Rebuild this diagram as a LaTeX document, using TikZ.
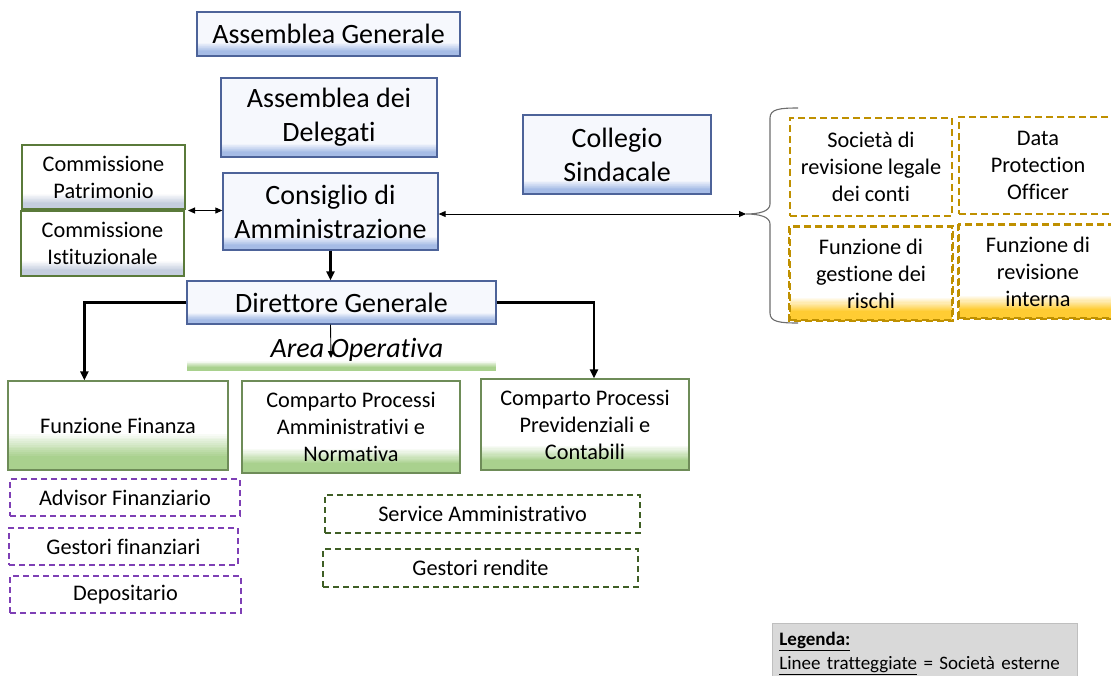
\documentclass[tikz,border=0pt]{standalone}
\usepackage{fontspec}
\setmainfont{Carlito}[Ligatures=NoCommon]
\usetikzlibrary{arrows.meta,calc}
\definecolor{blueborder}{HTML}{4D6399}
\definecolor{blueshade}{HTML}{A6BCE6}
\definecolor{boxbg}{HTML}{F6F8FD}
\definecolor{commborder}{HTML}{5A7A3A}
\definecolor{commshade}{HTML}{C5CEDF}
\definecolor{greenborder}{HTML}{6E8C58}
\definecolor{greenshade}{HTML}{A9D18E}
\definecolor{purpdash}{HTML}{7E3FB5}
\definecolor{darkgreendash}{HTML}{3F5E25}
\definecolor{golddash}{HTML}{BF9000}
\definecolor{goldshade}{HTML}{FFCC33}
\definecolor{bracegray}{HTML}{6E6E6E}
\definecolor{legendbg}{HTML}{D9D9D9}
\definecolor{legendborder}{HTML}{BFBFBF}
\newcommand\fsizeA{\fontsize{28}{34}\selectfont}
\newcommand\fsizeB{\fontsize{22.3}{27}\selectfont}
\newcommand\fsizeC{\fontsize{19}{23.5}\selectfont}
\tikzset{
  % #1 colour, #2 strip height (number, pt), #3 background colour
  botgrad/.style n args={3}{path picture={
    \foreach \k in {0,...,19}{
      \pgfmathsetmacro\pct{min(100,100*(20-\k)/13)}
      \pgfmathsetmacro\ya{#2*\k/20}
      \pgfmathsetmacro\yb{#2*(\k+1)/20+0.4}
      \fill[#1!\pct!#3] ([yshift=\ya pt]path picture bounding box.south west)
        rectangle ([yshift=\yb pt]path picture bounding box.south east);
    }}},
  basebox/.style={rectangle, inner sep=0pt, align=center, text=black},
  bluebox/.style={basebox, draw=blueborder, line width=1.3pt, fill=boxbg, font=\fsizeA, botgrad={blueshade}{13}{boxbg}},
  commbox/.style={basebox, draw=commborder, line width=1.2pt, fill=white, font=\fsizeB, botgrad={commshade}{15}{white}},
  greenbox/.style={basebox, draw=greenborder, line width=1.2pt, fill=white, font=\fsizeB},
  purpbox/.style={basebox, draw=purpdash, line width=1.6pt, dash pattern=on 6pt off 4pt, font=\fsizeB},
  dgbox/.style={basebox, draw=darkgreendash, line width=1.6pt, dash pattern=on 6pt off 4pt, font=\fsizeB},
  goldbox/.style={basebox, draw=golddash, line width=1.6pt, dash pattern=on 7pt off 4pt, font=\fsizeB},
  thickarrow/.style={line width=2.2pt, -{Triangle[length=9pt,width=8pt]}},
  thinarrow/.style={line width=0.9pt, -{Triangle[length=7pt,width=6pt]}},
  dblarrow/.style={line width=0.9pt, {Triangle[length=7pt,width=6pt]}-{Triangle[length=7pt,width=6pt]}},
}
\begin{document}
\begin{tikzpicture}[x=1pt,y=-1pt]
\clip (0,0) rectangle (1111,675);
\fill[white] (0,0) rectangle (1111,675);

% top blue boxes
\node[bluebox, minimum width=263pt, minimum height=44pt] (ag) at (328.5,34) {Assemblea Generale};
\node[bluebox, minimum width=216pt, minimum height=79pt] (ad) at (329,117.5) {Assemblea dei\\Delegati};
\node[bluebox, minimum width=215pt, minimum height=77pt] (cda) at (330.5,211.5) {Consiglio di\\Amministrazione};
\node[bluebox, minimum width=188pt, minimum height=79pt] (cs) at (617,154.5) {Collegio\\Sindacale};
\node[bluebox, minimum width=309pt, minimum height=43pt, botgrad={blueshade}{11}{boxbg}] (dg) at (341.5,302.5) {Direttore Generale};

% commissions
\node[commbox, minimum width=163pt, minimum height=64pt] (cp) at (103.5,177) {Commissione\\Patrimonio};
\node[commbox, minimum width=163pt, minimum height=65pt] (ci) at (102.5,243.5) {Commissione\\Istituzionale};

% area operativa
\node[font=\fsizeA\itshape, inner sep=0pt] (ao) at (357,350) {Area Operativa};
\node[rectangle, inner sep=0pt, minimum width=309pt, minimum height=9pt,
      botgrad={greenshade}{9}{white}] (aobar) at (341.5,366) {};
\coordinate (aoend) at (331,358);

% operative boxes
\node[greenbox, minimum width=220pt, minimum height=89pt, botgrad={greenshade}{36}{white}] (ff) at (118,425.5) {Funzione Finanza};
\node[greenbox, minimum width=218pt, minimum height=92pt, botgrad={greenshade}{24}{white}] (cpa) at (351,427) {Comparto Processi\\Amministrativi e\\Normativa};
\node[greenbox, minimum width=208pt, minimum height=91pt, botgrad={greenshade}{24}{white}] (cpp) at (585,424.5) {Comparto Processi\\Previdenziali e\\Contabili};

% external dashed boxes
\node[purpbox, minimum width=230pt, minimum height=37pt] (af) at (125,497.5) {Advisor Finanziario};
\node[purpbox, minimum width=229pt, minimum height=37pt] (gf) at (123.5,546.5) {Gestori finanziari};
\node[purpbox, minimum width=231pt, minimum height=37pt] (dep) at (125.5,594.5) {Depositario};
\node[dgbox, minimum width=315pt, minimum height=38pt] (sa) at (482.5,514) {Service Amministrativo};
\node[dgbox, minimum width=315pt, minimum height=38pt] (gr) at (480.5,568) {Gestori rendite};

% gold boxes
\node[goldbox, minimum width=162pt, minimum height=98pt] (srl) at (871,167) {Società di\\revisione legale\\dei conti};
\node[goldbox, minimum width=158pt, minimum height=97pt] (dpo) at (1038,165.5) {Data\\Protection\\Officer};
\node[goldbox, minimum width=162pt, minimum height=93pt, botgrad={goldshade}{22}{white}] (fgr) at (871,273.5) {Funzione di\\gestione dei\\rischi};
\node[goldbox, minimum width=158pt, minimum height=93pt, botgrad={goldshade}{22}{white}] (fri) at (1038,271.5) {Funzione di\\revisione\\interna};
% redraw gold dashed borders over shading
\draw[golddash, line width=1.6pt, dash pattern=on 7pt off 4pt] (fgr.north west) rectangle (fgr.south east);
\draw[golddash, line width=1.6pt, dash pattern=on 7pt off 4pt] (fri.north west) rectangle (fri.south east);

% brace
\coordinate (bracetip) at (746,214);
\draw[bracegray, line width=1.1pt]
  (798,108) .. controls (780,108) and (770,109) .. (770,118)
  -- (770,204) .. controls (770,211) and (760,214) .. (bracetip)
  .. controls (760,214) and (770,217) .. (770,224)
  -- (770,313) .. controls (770,322) and (780,323) .. (798,323);

% legend
\node[rectangle, draw=legendborder, line width=0.8pt, fill=legendbg, anchor=north west,
      minimum width=305pt, minimum height=60pt, inner xsep=7pt, inner ysep=8pt,
      align=left, text width=291pt, font=\fsizeC] (leg) at (772,623)
  {\textbf{\underline{Legenda:}}\\\underline{Linee tratteggiate} = Società esterne\\[6pt]};

% connectors
\draw[thickarrow] (cda.south) -- (cda.south |- dg.north);
\draw[thinarrow] (cda.south |- dg.south) -- (aoend);
\draw[thickarrow] (dg.west) -| ($(ff.north west)+(77,0)$);
\draw[thickarrow] (dg.east) -| ($(cpp.north)+(9,0)$);
\coordinate (cm) at (188,210.5);
\draw[dblarrow] (cm) -- (cm -| cda.west);
\draw[dblarrow] (cda.east |- bracetip) -- (bracetip);
\end{tikzpicture}
\end{document}
